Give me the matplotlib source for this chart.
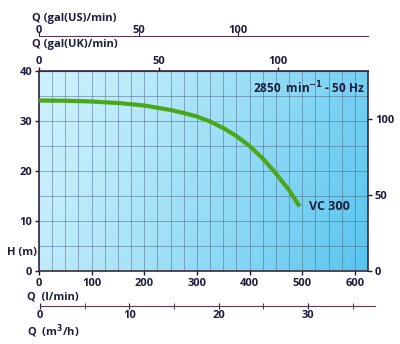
import numpy as np
import matplotlib
matplotlib.use('Agg')
import matplotlib.pyplot as plt

# pump curve VC 300 (Q in l/min, H in m)
q_lmin = [0, 50, 100, 150, 200, 250, 275, 300, 325, 350, 375, 400, 425, 450, 475, 495]
h_m = [34.1, 34.05, 33.9, 33.6, 33.1, 32.2, 31.6, 30.9, 29.9, 28.6, 27.0, 25.0, 22.5, 19.5, 16.2, 12.9]

lmin_ticks = [0, 100, 200, 300, 400, 500, 600]
h_ticks = [0, 10, 20, 30, 40]
ft_ticks = [0, 50, 100]
uk_ticks = [0, 50, 100]
us_ticks = [0, 50, 100]
m3h_ticks = [0, 10, 20, 30]

UK = 4.54609
US = 3.78541
FT = 0.3048
dark = '#1c1c3c'
spine_col = '#3a2a3a'

plt.rcParams['font.family'] = ['Open Sans', 'DejaVu Sans']
plt.rcParams['font.weight'] = 'bold'

fig = plt.figure(figsize=(4, 3.44), dpi=100)
ax = fig.add_axes([0.0975, 0.2122, 0.8225, 0.5814])
xmax = 625
ax.set_xlim(0, xmax)
ax.set_ylim(0, 40)

# background gradient
gx = np.linspace(0, 1, 200)
gy = np.linspace(0, 1, 100)
X, Y = np.meshgrid(gx, gy)
c1 = np.array([205, 241, 252]) / 255
c2 = np.array([88, 196, 238]) / 255
t = np.clip(0.8 * X + 0.2 * (1 - Y), 0, 1)[..., None] ** 1.3
img = c1 * (1 - t) + c2 * t
ax.imshow(img, extent=[0, xmax, 0, 40], aspect='auto', zorder=0, origin='lower')

ax.set_xticks(lmin_ticks)
ax.set_yticks(h_ticks)
ax.set_xticks(np.arange(0, xmax, 25), minor=True)
ax.set_yticks(np.arange(0, 41, 5), minor=True)
ax.grid(True, which='both', color='#3f5f80', linewidth=0.6, alpha=0.55, zorder=1)
ax.tick_params(which='minor', length=0)
ax.tick_params(which='major', labelsize=8, colors=dark, length=3, width=1, pad=2)
for lab in ax.get_xticklabels() + ax.get_yticklabels():
    lab.set_fontweight('bold')
for s in ax.spines.values():
    s.set_color(spine_col)
    s.set_linewidth(1.2)

ax.plot(q_lmin, h_m, color='#4aa818', linewidth=3, solid_capstyle='butt', zorder=3)

ax.text(512, 36.6, '2850  min$^{\\mathbf{-1}}$ - 50 Hz', ha='center', va='center',
        fontsize=8.5, fontweight='bold', color=dark, zorder=4)
ax.text(512, 13.0, 'VC 300', ha='left', va='center', fontsize=9,
        fontweight='bold', color=dark, zorder=4)

# right axis in feet
axr = ax.twinx()
axr.set_ylim(0, 40 / FT)
axr.set_yticks(ft_ticks)
axr.tick_params(labelsize=8, colors=dark, length=3, width=1, pad=2)
for lab in axr.get_yticklabels():
    lab.set_fontweight('bold')
for s in axr.spines.values():
    s.set_visible(False)

# top axis UK gal/min
axt = ax.secondary_xaxis('top', functions=(lambda x: x / UK, lambda x: x * UK))
axt.set_xticks(uk_ticks)
axt.tick_params(labelsize=8, colors=dark, length=3, width=1, pad=0)
for lab in axt.get_xticklabels():
    lab.set_fontweight('bold')
axt.spines['top'].set_color(spine_col)

# US gal/min scale line
ax_us = fig.add_axes([0.0975, 0.8953, 0.8225, 0.0001])
ax_us.set_xlim(0, xmax / US)
ax_us.set_xticks(us_ticks)
ax_us.set_yticks([])
ax_us.xaxis.set_ticks_position('bottom')
ax_us.tick_params(axis='x', direction='in', length=3, labelsize=8, colors=dark,
                  labelbottom=False, labeltop=True, pad=0)
for lab in ax_us.get_xticklabels():
    lab.set_fontweight('bold')
for k in ['top', 'left', 'right']:
    ax_us.spines[k].set_visible(False)
ax_us.spines['bottom'].set_color('#5a3a50')
ax_us.patch.set_visible(False)

# m3/h scale line
ax_m3 = fig.add_axes([0.1, 0.1105, 0.8375, 0.0001])
ax_m3.set_xlim(0, 37.5)
ax_m3.set_xticks(m3h_ticks)
ax_m3.set_xticks([5, 15, 25, 35], minor=True)
ax_m3.set_yticks([])
ax_m3.tick_params(axis='x', which='both', direction='inout', length=4, labelsize=8,
                  colors=dark, pad=1)
for lab in ax_m3.get_xticklabels():
    lab.set_fontweight('bold')
for k in ['top', 'left', 'right']:
    ax_m3.spines[k].set_visible(False)
ax_m3.spines['bottom'].set_color('#5a3a50')
ax_m3.patch.set_visible(False)

fig.text(32 / 400, 1 - 18 / 344, 'Q (gal(US)/min)', fontsize=8, fontweight='bold',
         color=dark, va='center')
fig.text(32 / 400, 1 - 45 / 344, 'Q (gal(UK)/min)', fontsize=8, fontweight='bold',
         color=dark, va='center')
fig.text(27 / 400, 1 - 297 / 344, 'Q  (l/min)', fontsize=8, fontweight='bold',
         color=dark, va='center')
fig.text(27 / 400, 1 - 331 / 344, 'Q  (m$^{\\mathbf{3}}$/h)', fontsize=8,
         fontweight='bold', color=dark, va='center')
fig.text(37 / 400, 1 - 253 / 344, 'H (m)', fontsize=8, fontweight='bold',
         color=dark, va='center', ha='right', zorder=10)

fig.savefig('out.png', dpi=100)
